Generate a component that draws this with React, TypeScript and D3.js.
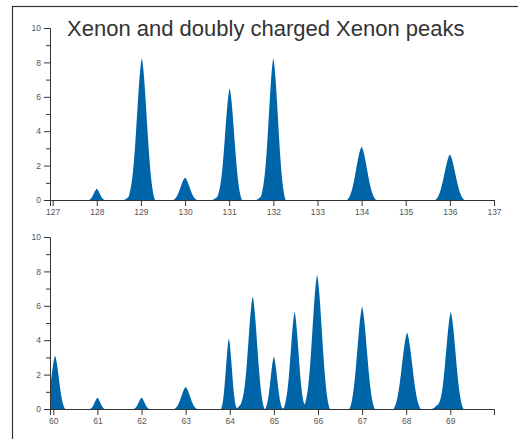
import React, { useEffect, useRef } from "react";
import * as d3 from "d3";

const TITLE = "Xenon and doubly charged Xenon peaks";

// Top panel: singly charged Xe peaks (m/z, intensity, half base width)
const topMass = [128, 128.75, 129.02, 130, 130.75, 131.01, 131.75, 132, 134, 136];
const topHeight = [0.65, 0.22, 8.25, 1.3, 0.2, 6.5, 0.25, 8.25, 3.1, 2.65];
const topWidth = [0.18, 0.15, 0.3, 0.27, 0.15, 0.28, 0.15, 0.28, 0.33, 0.33];

// Bottom panel: doubly charged region
const botMass = [60.04, 61, 62, 63, 63.98, 64.27, 64.52, 65, 65.27, 65.47, 65.72, 65.98, 67, 68.02, 68.72, 69.01];
const botHeight = [3.1, 0.65, 0.65, 1.28, 4.1, 0.3, 6.55, 3.05, 0.15, 5.65, 0.2, 7.8, 5.95, 4.45, 0.25, 5.65];
const botWidth = [0.23, 0.17, 0.18, 0.26, 0.18, 0.15, 0.27, 0.2, 0.1, 0.24, 0.12, 0.29, 0.29, 0.31, 0.15, 0.29];

const topDomain: [number, number] = [126.94, 137];
const botDomain: [number, number] = [59.925, 69.99];
const topTicks = [127, 128, 129, 130, 131, 132, 133, 134, 135, 136, 137];
const botTicks = [60, 61, 62, 63, 64, 65, 66, 67, 68, 69];
const yTicks = [0, 1, 2, 3, 4, 5, 6, 7, 8, 9, 10];

const W = 518;
const H = 439;
const FILL = "#0064a8";
const FONT = "'Liberation Sans', Arial, Helvetica, sans-serif";

const K = 2.6;
const G0 = Math.exp(-0.5 * K * K);
function shape(d: number) {
  if (d >= 1) return 0;
  const g = (Math.exp(-0.5 * (d * K) * (d * K)) - G0) / (1 - G0);
  const t = Math.pow(1 - d, 1.6);
  return 0.75 * g + 0.25 * t;
}

function buildSpectrum(mass: number[], height: number[], width: number[], domain: [number, number]) {
  const pts: [number, number][] = [];
  const step = 0.004;
  for (let x = domain[0]; x <= domain[1] + 1e-9; x += step) {
    let v = 0;
    for (let i = 0; i < mass.length; i++) {
      const d = Math.abs(x - mass[i]) / width[i];
      v += height[i] * shape(d);
    }
    pts.push([x, v]);
  }
  return pts;
}

export default function App() {
  const ref = useRef<SVGSVGElement | null>(null);

  useEffect(() => {
    const svg = d3.select(ref.current);
    svg.selectAll("*").remove();

    svg
      .append("rect")
      .attr("x", 12.5)
      .attr("y", 6.5)
      .attr("width", 700)
      .attr("height", 700)
      .attr("fill", "none")
      .attr("stroke", "#333")
      .attr("stroke-width", 1.2);

    svg
      .append("text")
      .attr("x", 67)
      .attr("y", 36)
      .attr("font-family", FONT)
      .attr("font-size", 22)
      .attr("fill", "#333")
      .text(TITLE);

    const panels = [
      { top: 28, mass: topMass, height: topHeight, width: topWidth, domain: topDomain, ticks: topTicks, id: "a" },
      { top: 237, mass: botMass, height: botHeight, width: botWidth, domain: botDomain, ticks: botTicks, id: "b" },
    ];

    const left = 50;
    const pw = 444;
    const ph = 172;

    panels.forEach((p) => {
      const g = svg.append("g").attr("transform", `translate(${left},${p.top})`);
      const x = d3.scaleLinear().domain(p.domain).range([0, pw]);
      const y = d3.scaleLinear().domain([0, 10]).range([ph, 0]);

      svg
        .append("defs")
        .append("clipPath")
        .attr("id", "clip" + p.id)
        .append("rect")
        .attr("x", 0)
        .attr("y", -5)
        .attr("width", pw)
        .attr("height", ph + 5);

      const data = buildSpectrum(p.mass, p.height, p.width, p.domain);
      const area = d3
        .area<[number, number]>()
        .x((d) => x(d[0]))
        .y0(y(0))
        .y1((d) => y(d[1]));

      g.append("path")
        .attr("clip-path", `url(#clip${p.id})`)
        .attr("d", area(data) as string)
        .attr("fill", FILL);

      const xAxis = g
        .append("g")
        .attr("transform", `translate(0,${ph})`)
        .call(d3.axisBottom(x).tickValues(p.ticks).tickFormat(d3.format("d")).tickSize(6).tickSizeOuter(6));

      const yAxis = g
        .append("g")
        .call(
          d3
            .axisLeft(y)
            .tickValues(yTicks)
            .tickFormat((d) => ((d as number) % 2 === 0 ? String(d) : ""))
            .tickSize(6)
            .tickSizeOuter(6)
        );
      yAxis
        .selectAll<SVGGElement, number>(".tick")
        .filter((d) => d % 2 !== 0)
        .select("line")
        .attr("x2", -4);

      [xAxis, yAxis].forEach((ax) => {
        ax.select(".domain").attr("stroke", "#333");
        ax.selectAll(".tick line").attr("stroke", "#333");
        ax.selectAll("text").attr("fill", "#555").attr("font-family", FONT).attr("font-size", 8.5);
      });
    });
  }, []);

  return (
    <svg
      ref={ref}
      width={W}
      height={H}
      style={{ position: "absolute", left: 0, top: 0, display: "block", background: "#fff" }}
    />
  );
}
